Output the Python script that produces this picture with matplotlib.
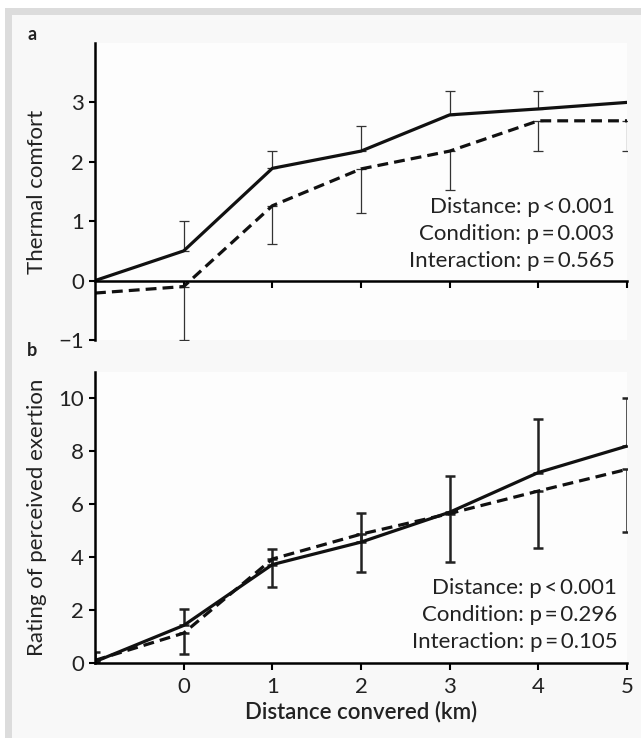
import numpy as np
import matplotlib.pyplot as plt
from matplotlib.patches import Rectangle

plt.rcParams['font.family'] = ['Lato', 'DejaVu Sans']

# distance covered (km); -1 is the baseline point before the run
km = [-1, 0, 1, 2, 3, 4, 5]
xtick_vals = [0, 1, 2, 3, 4, 5]

# panel a: thermal comfort
tc_solid = [0.0, 0.5, 1.89, 2.18, 2.79, 2.89, 3.0]
tc_dashed = [-0.21, -0.1, 1.26, 1.88, 2.18, 2.69, 2.69]
tc_err_x = [0, 1, 2, 3, 4]
tc_solid_err_top = [1.0, 2.18, 2.61, 3.2, 3.2]
tc_err_x_dashed = [0, 1, 2, 3, 4, 5]
tc_dashed_err_bottom = [-1.0, 0.61, 1.14, 1.53, 2.18, 2.18]
tc_stats = ["Distance: p\u2009<\u20090.001", "Condition: p\u2009=\u20090.003", "Interaction: p\u2009=\u20090.565"]

# panel b: rating of perceived exertion
rpe_solid = [0.05, 1.42, 3.72, 4.57, 5.70, 7.2, 8.2]
rpe_dashed = [0.1, 1.13, 3.93, 4.87, 5.65, 6.5, 7.32]
rpe_solid_err_top = [0.4, 2.05, 4.31, 5.68, 7.07, 9.21, 10.03]
rpe_dashed_err_bottom = [0.1, 0.33, 2.86, 3.45, 3.81, 4.33, 4.94]
rpe_stats = ["Distance: p\u2009<\u20090.001", "Condition: p\u2009=\u20090.296", "Interaction: p\u2009=\u20090.105"]

W, H = 641, 738
fig = plt.figure(figsize=(W / 100, H / 100), dpi=100)
fig.patch.set_facecolor('white')

# grey frame + light inner panel
fig.patches.append(Rectangle((5 / W, 0), 1, 1 - 8 / H, transform=fig.transFigure,
                             facecolor='#dcdcdc', edgecolor='none', zorder=-10))
fig.patches.append(Rectangle((12 / W, 0), 1, 1 - 15 / H, transform=fig.transFigure,
                             facecolor='#f8f8f8', edgecolor='none', zorder=-9))

ax_a = fig.add_axes([95 / W, 1 - 340 / H, 532 / W, 297 / H])
ax_b = fig.add_axes([95 / W, 1 - 663 / H, 532 / W, 291 / H])

txt_color = '#222222'
fs = 16
lw_line = 2.3
dash = (3.4, 1.9)


def style_axis(ax):
    ax.set_facecolor('#fdfdfd')
    ax.spines['top'].set_visible(False)
    ax.spines['right'].set_visible(False)
    ax.spines['left'].set_linewidth(1.8)
    ax.spines['bottom'].set_linewidth(1.8)
    ax.tick_params(axis='both', direction='out', length=4, width=1.5,
                   labelsize=fs, labelcolor=txt_color, pad=4)
    ax.set_xlim(-1, 5)
    ax.set_xticks(xtick_vals)


# --- panel a ---
ax = ax_a
style_axis(ax)
s_mean = np.array([tc_solid[km.index(v)] for v in tc_err_x])
ax.errorbar(tc_err_x, s_mean, yerr=[np.zeros(len(s_mean)), np.array(tc_solid_err_top) - s_mean],
            fmt='none', ecolor='#333333', elinewidth=0.9, capsize=3.5, capthick=0.9)
d_mean = np.array([tc_dashed[km.index(v)] for v in tc_err_x_dashed])
ax.errorbar(tc_err_x_dashed, d_mean,
            yerr=[d_mean - np.array(tc_dashed_err_bottom), np.zeros(len(d_mean))],
            fmt='none', ecolor='#333333', elinewidth=0.9, capsize=3.5, capthick=0.9)
ax.plot(km, tc_solid, color='#111111', lw=lw_line)
ax.plot(km, tc_dashed, color='#111111', lw=lw_line, linestyle=(0, dash))
ax.set_ylim(-1, 4)
ax.set_yticks([-1, 0, 1, 2, 3])
ax.set_yticklabels(['\u22121', '0', '1', '2', '3'])
ax.spines['bottom'].set_position(('data', 0))
ax.tick_params(axis='x', labelbottom=False, length=5)
ax.set_ylabel('Thermal comfort', fontsize=fs, color=txt_color)
ax.yaxis.set_label_coords(-0.09, 0.5)
for i, s in enumerate(tc_stats):
    ax.text(4.86, 1.24 - 0.455 * i, s, ha='right', va='center', fontsize=fs, color=txt_color)

# --- panel b ---
ax = ax_b
style_axis(ax)
s_mean = np.array(rpe_solid)
ax.errorbar(km, s_mean, yerr=[np.zeros(len(km)), np.array(rpe_solid_err_top) - s_mean],
            fmt='none', ecolor='#222222', elinewidth=1.8, capsize=3.5, capthick=1.8)
d_mean = np.array(rpe_dashed)
ax.errorbar(km, d_mean, yerr=[d_mean - np.array(rpe_dashed_err_bottom), np.zeros(len(km))],
            fmt='none', ecolor='#222222', elinewidth=1.8, capsize=3.5, capthick=1.8)
ax.plot(km, rpe_solid, color='#111111', lw=lw_line)
ax.plot(km, rpe_dashed, color='#111111', lw=lw_line, linestyle=(0, dash))
ax.set_ylim(0, 11)
ax.set_yticks([0, 2, 4, 6, 8, 10])
ax.tick_params(axis='x', length=5, pad=5)
ax.set_ylabel('Rating of perceived exertion', fontsize=fs, color=txt_color)
ax.yaxis.set_label_coords(-0.09, 0.5)
ax.set_xlabel('Distance convered (km)', fontsize=fs, color=txt_color, fontweight='semibold', labelpad=3)
for i, s in enumerate(rpe_stats):
    ax.text(4.89, 2.82 - 1.01 * i, s, ha='right', va='center', fontsize=fs, color=txt_color)

# panel letters
fig.text(32 / W, 1 - 35 / H, 'a', fontsize=13, fontweight='bold', ha='center', va='center', color=txt_color)
fig.text(32 / W, 1 - 351 / H, 'b', fontsize=13, fontweight='bold', ha='center', va='center', color=txt_color)

fig.savefig('out.png', dpi=100, facecolor=fig.get_facecolor())
